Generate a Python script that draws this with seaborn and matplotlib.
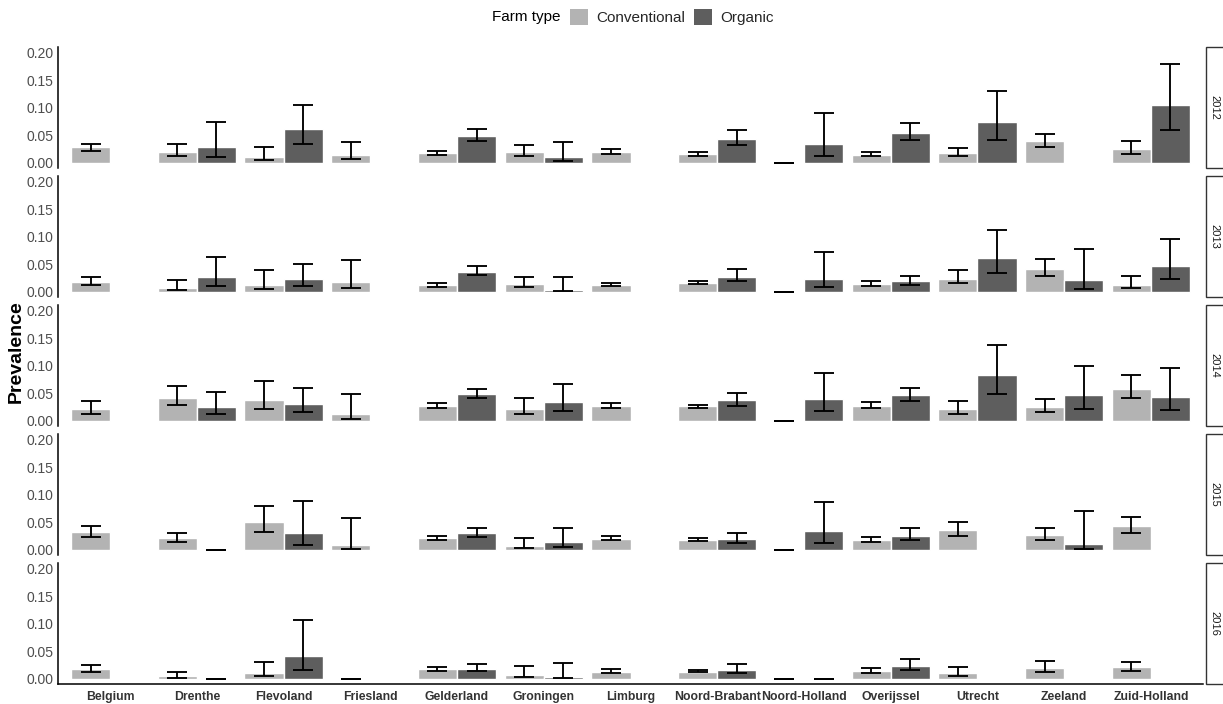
import numpy as np
import pandas as pd
import matplotlib
matplotlib.use("Agg")
import matplotlib.pyplot as plt
import seaborn as sns
from matplotlib.patches import Patch, Rectangle

# --- Data ---
REGIONS = ["Belgium", "Drenthe", "Flevoland", "Friesland", "Gelderland", "Groningen",
           "Limburg", "Noord-Brabant", "Noord-Holland", "Overijssel", "Utrecht",
           "Zeeland", "Zuid-Holland"]
YEARS = [2012, 2013, 2014, 2015, 2016]
FARM_TYPES = ["Conventional", "Organic"]
nan = np.nan

CONV_PREV = {
    2012: [0.028, 0.020, 0.011, 0.0145, 0.018, 0.020, 0.020, 0.016, 0.0, 0.0145, 0.0176, 0.039, 0.0255],
    2013: [0.0184, 0.0074, 0.0123, 0.0178, 0.0117, 0.0141, 0.0123, 0.0166, 0.0, 0.0147, 0.024, 0.0417, 0.0123],
    2014: [0.0215, 0.042, 0.038, 0.0123, 0.0277, 0.022, 0.027, 0.0265, 0.0, 0.0277, 0.022, 0.0246, 0.0585],
    2015: [0.0316, 0.0213, 0.050, 0.0079, 0.0213, 0.0067, 0.020, 0.0176, 0.0, 0.0176, 0.036, 0.026, 0.0426],
    2016: [0.018, 0.0048, 0.011, 0.0, 0.018, 0.0067, 0.0127, 0.013, 0.0, 0.014, 0.0103, 0.020, 0.0206],
}
CONV_LO = {
    2012: [0.022, 0.012, 0.005, 0.006, 0.015, 0.013, 0.016, 0.013, 0.0, 0.0115, 0.0115, 0.028, 0.016],
    2013: [0.0123, 0.003, 0.005, 0.0067, 0.0092, 0.008, 0.0098, 0.014, 0.0, 0.011, 0.0153, 0.0294, 0.006],
    2014: [0.013, 0.028, 0.021, 0.0037, 0.024, 0.0123, 0.0234, 0.024, 0.0, 0.024, 0.013, 0.016, 0.0406],
    2015: [0.0237, 0.014, 0.0316, 0.0006, 0.0176, 0.0024, 0.017, 0.0158, 0.0, 0.014, 0.025, 0.0176, 0.030],
    2016: [0.0127, 0.0018, 0.0048, 0.0, 0.0145, 0.003, 0.0097, 0.0125, 0.0, 0.011, 0.0055, 0.0127, 0.0133],
}
CONV_HI = {
    2012: [0.0345, 0.034, 0.029, 0.038, 0.022, 0.0315, 0.025, 0.019, 0.0, 0.020, 0.027, 0.053, 0.040],
    2013: [0.0276, 0.021, 0.039, 0.0577, 0.0153, 0.026, 0.016, 0.020, 0.0, 0.020, 0.0387, 0.059, 0.028],
    2014: [0.036, 0.063, 0.072, 0.048, 0.0326, 0.041, 0.0326, 0.0295, 0.0, 0.0345, 0.036, 0.0388, 0.0837],
    2015: [0.0426, 0.031, 0.079, 0.057, 0.0243, 0.0219, 0.025, 0.0207, 0.0, 0.0225, 0.050, 0.039, 0.0596],
    2016: [0.0255, 0.0115, 0.030, 0.0, 0.0218, 0.0224, 0.0176, 0.0155, 0.0, 0.0188, 0.0218, 0.0327, 0.031],
}
ORG_PREV = {
    2012: [nan, 0.029, 0.062, nan, 0.0485, 0.0097, nan, 0.044, 0.0345, 0.055, 0.0745, nan, 0.105],
    2013: [nan, 0.027, 0.0227, nan, 0.0368, 0.003, nan, 0.0276, 0.024, 0.019, 0.062, 0.021, 0.047],
    2014: [nan, 0.025, 0.031, nan, 0.048, 0.035, nan, 0.0375, 0.040, 0.046, 0.0825, 0.046, 0.0437],
    2015: [nan, 0.0, 0.030, nan, 0.030, 0.0146, nan, 0.0195, 0.034, 0.0255, nan, 0.0097, nan],
    2016: [nan, 0.0, 0.042, nan, 0.018, 0.003, nan, 0.0164, 0.0, 0.023, nan, nan, nan],
}
ORG_LO = {
    2012: [nan, 0.011, 0.035, nan, 0.039, 0.003, nan, 0.0315, 0.013, 0.041, 0.042, nan, 0.059],
    2013: [nan, 0.011, 0.0104, nan, 0.030, 0.0006, nan, 0.0196, 0.008, 0.0123, 0.0337, 0.0055, 0.023],
    2014: [nan, 0.0123, 0.016, nan, 0.0406, 0.0185, nan, 0.0277, 0.0185, 0.0357, 0.0486, 0.021, 0.0197],
    2015: [nan, 0.0, 0.009, nan, 0.0225, 0.0055, nan, 0.0122, 0.0122, 0.0176, nan, 0.0018, nan],
    2016: [nan, 0.0, 0.0164, nan, 0.0133, 0.0012, nan, 0.0097, 0.0, 0.0158, nan, nan, nan],
}
ORG_HI = {
    2012: [nan, 0.075, 0.105, nan, 0.062, 0.037, nan, 0.060, 0.090, 0.073, 0.130, nan, 0.180],
    2013: [nan, 0.064, 0.050, nan, 0.046, 0.026, nan, 0.041, 0.072, 0.0294, 0.112, 0.0785, 0.0957],
    2014: [nan, 0.052, 0.060, nan, 0.058, 0.0665, nan, 0.050, 0.087, 0.059, 0.138, 0.099, 0.0954],
    2015: [nan, 0.0, 0.0888, nan, 0.0395, 0.0395, nan, 0.031, 0.0863, 0.039, nan, 0.071, nan],
    2016: [nan, 0.0, 0.107, nan, 0.0267, 0.029, nan, 0.0273, 0.0, 0.0358, nan, nan, nan],
}

COLORS = {"Conventional": "#B3B3B3", "Organic": "#5E5E5E"}

# long table
rows = []
for yr in YEARS:
    for ft, prev, lo, hi in [("Conventional", CONV_PREV, CONV_LO, CONV_HI),
                             ("Organic", ORG_PREV, ORG_LO, ORG_HI)]:
        for i, reg in enumerate(REGIONS):
            if not np.isnan(prev[yr][i]):
                rows.append({"Year": yr, "Region": reg, "Farm type": ft,
                             "Prevalence": prev[yr][i], "lo": lo[yr][i], "hi": hi[yr][i]})
df = pd.DataFrame(rows)

sns.set_theme(style="white")
plt.rcParams["font.family"] = ["Liberation Sans", "DejaVu Sans"]

W, H = 1223, 704
fig, axes = plt.subplots(5, 1, figsize=(W / 100, H / 100), dpi=100, sharex=True)
fig.subplots_adjust(left=58 / W, right=1203 / W, top=1 - 47 / H, bottom=1 - 684 / H, hspace=8 / 121)

BAR_W = 0.9
for ax, yr in zip(axes, YEARS):
    sub = df[df["Year"] == yr]
    sns.barplot(data=sub, x="Region", y="Prevalence", hue="Farm type", order=REGIONS,
                hue_order=FARM_TYPES, palette=COLORS, errorbar=None, width=BAR_W,
                saturation=1, legend=False, ax=ax)
    for j, ft in enumerate(FARM_TYPES):
        s = sub[sub["Farm type"] == ft]
        xpos = s["Region"].map(REGIONS.index) + (j - 0.5) * BAR_W / 2
        ax.errorbar(xpos, s["Prevalence"],
                    yerr=[s["Prevalence"] - s["lo"], s["hi"] - s["Prevalence"]],
                    fmt="none", ecolor="black", elinewidth=1.35, capsize=7, capthick=1.35)

    ax.set_xlim(-0.6, len(REGIONS) - 0.4)
    ax.set_ylim(-0.0095, 0.2105)
    ax.set_yticks([0, 0.05, 0.10, 0.15, 0.20])
    ax.set_yticklabels(["0.00", "0.05", "0.10", "0.15", "0.20"])
    ax.tick_params(axis="both", length=0, pad=3)
    ax.tick_params(axis="y", labelsize=10, labelcolor="#4D4D4D")
    ax.set_xlabel("")
    ax.set_ylabel("")
    for side in ["top", "right", "bottom"]:
        ax.spines[side].set_visible(False)
    ax.spines["left"].set_color("black")
    ax.spines["left"].set_linewidth(1.1)

    # facet strip on the right
    pos = ax.get_position()
    fig.patches.append(Rectangle((1206 / W, pos.y0), 30 / W, pos.height, transform=fig.transFigure,
                                 facecolor="white", edgecolor="#333333", linewidth=1.0))
    fig.text(1214 / W, pos.y0 + pos.height / 2, str(yr), rotation=270, ha="center", va="center",
             fontsize=8, color="#1A1A1A")

bax = axes[-1]
bax.spines["bottom"].set_visible(True)
bax.spines["bottom"].set_color("black")
bax.spines["bottom"].set_linewidth(1.1)
bax.set_xticks(range(len(REGIONS)))
bax.set_xticklabels(REGIONS, fontweight="bold", fontsize=8.8, color="#333333")
bax.tick_params(axis="x", pad=5)

fig.text(16 / W, 0.5, "Prevalence", rotation=90, ha="center", va="center",
         fontsize=14, fontweight="bold", color="black")

# legend on top
fig.text(560 / W, 1 - 17 / H, "Farm type", ha="right", va="center", fontsize=11, color="black")
handles = [Patch(facecolor=COLORS[f], edgecolor="none", label=f) for f in FARM_TYPES]
fig.legend(handles=handles, loc="center left", bbox_to_anchor=(564 / W, 1 - 17 / H), ncol=2,
           frameon=False, fontsize=11, handlelength=1.2, handleheight=1.2,
           handletextpad=0.5, columnspacing=0.6, borderaxespad=0)

fig.savefig("out.png", dpi=100)
